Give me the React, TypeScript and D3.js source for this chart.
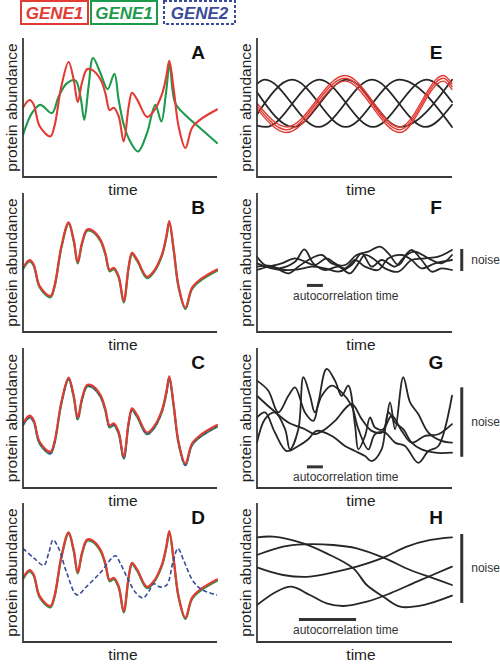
import React from 'react';
import * as d3 from 'd3';

type Pt = [number, number];

// ---------- text ----------
const legendLabels = ['GENE1', 'GENE1', 'GENE2'];
const xAxisLabel = 'time';
const yAxisLabel = 'protein abundance';
const noiseLabel = 'noise';
const autocorrLabel = 'autocorrelation time';

// ---------- data (time 0..100, abundance in arbitrary units) ----------
const gene1: Pt[] = [
  [0, 46.2], [3.4, 51.7], [5.5, 48.6], [8.6, 33.0], [14.1, 25.8], [16.2, 33.0], [19.8, 61.7],
  [23.5, 78.9], [26.1, 66.5], [28.2, 50.2], [30.4, 64.1], [33.0, 73.7], [35.6, 73.2], [39.9, 66.5],
  [42.4, 56.9], [44.7, 44.5], [46.7, 46.2], [49.3, 40.2], [51.9, 22.2], [54.5, 47.4], [56.2, 56.9],
  [58.8, 52.2], [63.9, 39.7], [67.4, 43.8], [71.6, 55.7], [73.9, 68.9], [75.4, 79.7], [77.7, 59.3],
  [80.2, 33.0], [83.7, 17.5], [87.1, 31.8], [91.4, 37.8], [100, 45.0],
];

const gene1OtherCell: Pt[] = [
  [0, 26.9], [4.6, 42.4], [8.9, 48.3], [14.9, 42.4], [18.4, 54.3], [22.7, 63.8], [27.0, 65.8],
  [29.6, 54.3], [31.6, 37.6], [33.8, 61.4], [36.1, 81.7], [39.9, 71.0], [43.6, 59.5], [47.1, 70.5],
  [49.3, 51.9], [52.2, 32.8], [55.3, 22.1], [59.3, 15.0], [63.9, 28.1], [68.2, 48.3], [71.3, 36.4],
  [73.7, 56.6], [75.6, 77.0], [78.5, 49.5], [84.5, 40.0], [91.4, 31.6], [100, 21.0],
];

const gene2: Pt[] = [
  [0, 67.3], [5.5, 60.5], [10.7, 55.2], [13.2, 63.7], [15.5, 73.4], [18.4, 67.3], [22.7, 49.2],
  [27.8, 33.9], [33.0, 40.2], [39.9, 49.9], [47.6, 62.0], [50.2, 56.4], [53.6, 46.7], [57.9, 35.8],
  [61.9, 31.7], [64.8, 36.3], [67.4, 41.9], [70.8, 39.5], [74.2, 41.2], [77.3, 57.6], [79.9, 67.3],
  [82.8, 58.8], [88.0, 43.1], [93.1, 37.0], [100, 33.9],
];

// E: oscillators (extrema)
const oscRed: Pt[] = [[0, 51], [15.2, 34], [45.1, 71], [73.3, 34], [95.6, 71], [100, 65]];
const oscBlack1: Pt[] = [[0, 67], [4, 70], [31.5, 36], [59, 70], [86.5, 36], [100, 52]];
const oscBlack2: Pt[] = [[0, 45], [18, 70], [45.5, 36], [73, 70], [100, 36]];
const oscBlack3: Pt[] = [[0, 37], [4.5, 36], [32, 70], [59.5, 36], [87, 70], [100, 54]];
const oscBlack4: Pt[] = [[0, 61], [18.5, 36], [46, 70], [73.5, 36], [100, 70]];

// F: small, fast noise
const smallNoise1: Pt[] = [
  [0, 54.2], [4.1, 48.2], [10.9, 45.8], [19.5, 50.6], [24.3, 59.5], [28.9, 49.4], [34.9, 44.6],
  [41.7, 47.0], [47.7, 42.2], [52.0, 49.4], [55.4, 55.4], [60.5, 51.8], [65.6, 45.8], [72.5, 43.4],
  [79.3, 51.8], [86.2, 53.0], [93.0, 54.2], [100, 59.0],
];
const smallNoise2: Pt[] = [
  [0, 47.0], [7.5, 47.5], [16.1, 42.2], [21.2, 47.0], [26.3, 51.8], [33.2, 55.4], [38.3, 49.4],
  [45.1, 48.2], [51.1, 55.4], [57.1, 57.8], [63.1, 61.4], [67.4, 56.6], [72.5, 48.2], [76.8, 55.4],
  [81.0, 57.8], [87.9, 53.0], [94.7, 49.4], [100, 55.4],
];
const smallNoise3: Pt[] = [
  [0, 44.6], [5.8, 47.0], [12.6, 49.4], [19.5, 53.0], [24.6, 50.6], [29.7, 48.2], [35.7, 53.0],
  [40.0, 49.4], [45.1, 45.8], [50.3, 51.8], [55.4, 47.0], [62.2, 44.6], [67.4, 53.0], [74.2, 55.4],
  [79.3, 51.8], [84.4, 45.8], [91.3, 49.4], [100, 51.8],
];
const smallNoise4: Pt[] = [
  [0, 49.4], [7.5, 45.8], [14.4, 44.6], [21.2, 45.1], [28.0, 47.0], [34.9, 45.8], [41.7, 43.4],
  [48.5, 48.2], [53.7, 56.6], [58.8, 47.0], [63.9, 51.8], [70.8, 47.0], [74.2, 51.8], [79.3, 59.0],
  [84.4, 51.8], [89.6, 43.4], [94.7, 45.8], [100, 44.6],
];

// G: large, fast noise
const largeNoise1: Pt[] = [
  [0, 76.7], [5.8, 69.5], [10.9, 54.0], [16.1, 65.9], [19.5, 71.9], [24.6, 54.0], [28.9, 48.0],
  [31.5, 61.2], [35.7, 85.1], [40.0, 76.7], [43.4, 65.9], [46.8, 73.1], [50.3, 44.4], [52.0, 27.6],
  [55.4, 37.2], [58.0, 50.4], [60.5, 43.2], [64.8, 42.0], [68.2, 61.2], [70.8, 42.0], [75.0, 79.1],
  [78.5, 61.2], [82.7, 52.8], [87.9, 39.6], [94.7, 33.6], [100, 32.4],
];
const largeNoise2: Pt[] = [
  [0, 65.9], [7.5, 56.4], [16.1, 46.8], [24.6, 42.0], [29.7, 38.4], [34.9, 42.0], [40.0, 48.0],
  [48.5, 60.0], [53.7, 49.2], [58.8, 40.8], [63.9, 39.6], [69.1, 51.6], [74.2, 40.8], [79.3, 32.4],
  [86.2, 37.2], [93.0, 38.4], [100, 45.6],
];
const largeNoise3: Pt[] = [
  [0, 32.4], [4.1, 49.2], [9.2, 54.0], [14.4, 42.0], [16.9, 27.6], [21.2, 42.0], [23.8, 79.1],
  [27.2, 65.9], [29.7, 54.0], [33.2, 65.9], [38.3, 73.1], [43.4, 68.3], [48.5, 58.8], [52.0, 42.0],
  [57.1, 27.6], [60.5, 38.4], [65.6, 39.6], [70.8, 32.4], [75.9, 30.0], [82.7, 18.0], [87.9, 26.4],
  [93.0, 30.0], [100, 65.9],
];
const largeNoise4: Pt[] = [
  [0, 50.4], [4.1, 54.0], [9.2, 39.6], [15.2, 26.4], [21.2, 30.0], [26.3, 34.8], [30.6, 40.8],
  [38.3, 37.2], [45.1, 30.0], [50.3, 26.4], [55.4, 22.8], [58.8, 19.2], [63.9, 27.6], [67.4, 54.0],
  [70.8, 46.8], [75.0, 42.0], [79.3, 32.4], [84.4, 27.6], [91.3, 25.2], [100, 25.2],
];

// H: large, slow noise
const slowNoise1: Pt[] = [
  [0, 75.3], [8.2, 75.8], [23.7, 71.0], [35.7, 63.8], [49.4, 53.0], [56.3, 41.0], [64.8, 32.6],
  [73.4, 25.4], [85.4, 26.6], [100, 33.3],
];
const slowNoise2: Pt[] = [
  [0, 62.6], [13.4, 68.6], [23.7, 70.3], [39.1, 69.8], [51.1, 67.4], [64.8, 60.7], [78.6, 51.8],
  [90.6, 45.8], [100, 41.0],
];
const slowNoise3: Pt[] = [
  [0, 53.7], [13.4, 48.2], [27.1, 47.0], [40.8, 50.6], [51.1, 54.2], [64.8, 60.7], [76.8, 68.6],
  [88.9, 73.4], [100, 75.3],
];
const slowNoise4: Pt[] = [
  [0, 26.6], [9.9, 36.2], [17.7, 39.8], [27.1, 33.8], [35.7, 27.8], [44.3, 25.9], [56.3, 29.0],
  [68.3, 35.0], [82.0, 43.4], [100, 54.2],
];

// annotations (data units): noise range [low, high], autocorrelation [t0, t1, level]
const noiseF: Pt = [43.9, 59.7];
const noiseG: Pt = [22.3, 71.9];
const noiseH: Pt = [28.1, 77.7];
const autocorrF: [number, number, number] = [25.6, 33.8, 33.5];
const autocorrG: [number, number, number] = [25.6, 33.8, 15.1];
const autocorrH: [number, number, number] = [21.5, 50.8, 16.2];
const noiseBarTime = 105;

// ---------- styles / layout ----------
const RED = '#e23b34';
const GREEN = '#1d9a4c';
const BLUE = '#3a4b9b';
const BLACK = '#262626';
const AXIS = '#3a3a3a';
const FONT = '"Liberation Sans", Arial, Helvetica, sans-serif';

const cols = [
  { x0: 23, x1: 217, ylab: 17, timeX: 123, letterX: 198 },
  { x0: 257, x1: 452, ylab: 251, timeX: 361, letterX: 436 },
];
const rows = [
  { top: 38, bottom: 177 },
  { top: 193, bottom: 332 },
  { top: 348, bottom: 488 },
  { top: 503, bottom: 642 },
];

type Series = {
  data: Pt[];
  color: string;
  width: number;
  dy?: number;
  dash?: string;
  curve?: 'mono' | 'cr';
  triple?: boolean;
};

type Panel = {
  letter: string;
  col: number;
  row: number;
  yDomain: [number, number];
  series: Series[];
  noise?: Pt;
  autocorr?: [number, number, number];
};

const panels: Panel[] = [
  {
    letter: 'A', col: 0, row: 0, yDomain: [-3.2, 96],
    series: [
      { data: gene1OtherCell, color: GREEN, width: 2.1 },
      { data: gene1, color: RED, width: 2.1 },
    ],
  },
  {
    letter: 'B', col: 0, row: 1, yDomain: [0, 100],
    series: [
      { data: gene1, color: GREEN, width: 2.2, dy: 1.3 },
      { data: gene1, color: RED, width: 2.2 },
    ],
  },
  {
    letter: 'C', col: 0, row: 2, yDomain: [0, 100],
    series: [
      { data: gene1, color: GREEN, width: 2.2, dy: 1.8 },
      { data: gene1, color: BLUE, width: 1.8, dy: 1.5, dash: '4 2.5' },
      { data: gene1, color: RED, width: 2.1 },
    ],
  },
  {
    letter: 'D', col: 0, row: 3, yDomain: [0, 100],
    series: [
      { data: gene1, color: GREEN, width: 2.2, dy: 1.3 },
      { data: gene1, color: RED, width: 2.2 },
      { data: gene2, color: BLUE, width: 1.6, dash: '4.5 2.5' },
    ],
  },
  {
    letter: 'E', col: 1, row: 0, yDomain: [0, 100],
    series: [
      { data: oscBlack1, color: BLACK, width: 1.8, curve: 'mono' },
      { data: oscBlack2, color: BLACK, width: 1.8, curve: 'mono' },
      { data: oscBlack3, color: BLACK, width: 1.8, curve: 'mono' },
      { data: oscBlack4, color: BLACK, width: 1.8, curve: 'mono' },
      { data: oscRed, color: RED, width: 1.4, curve: 'mono', triple: true },
    ],
  },
  {
    letter: 'F', col: 1, row: 1, yDomain: [0, 100],
    series: [smallNoise1, smallNoise2, smallNoise3, smallNoise4].map((d) => ({ data: d, color: BLACK, width: 1.8 })),
    noise: noiseF, autocorr: autocorrF,
  },
  {
    letter: 'G', col: 1, row: 2, yDomain: [0, 100],
    series: [largeNoise1, largeNoise2, largeNoise3, largeNoise4].map((d) => ({ data: d, color: BLACK, width: 1.8 })),
    noise: noiseG, autocorr: autocorrG,
  },
  {
    letter: 'H', col: 1, row: 3, yDomain: [0, 100],
    series: [slowNoise1, slowNoise2, slowNoise3, slowNoise4].map((d) => ({ data: d, color: BLACK, width: 1.8 })),
    noise: noiseH, autocorr: autocorrH,
  },
];

function PanelView({ p }: { p: Panel }) {
  const c = cols[p.col];
  const r = rows[p.row];
  const x = d3.scaleLinear().domain([0, 100]).range([c.x0, c.x1]);
  const y = d3.scaleLinear().domain(p.yDomain).range([r.bottom, r.top]);
  const mk = (curve?: string) =>
    d3
      .line<Pt>()
      .x((d) => x(d[0]))
      .y((d) => y(d[1]))
      .curve(curve === 'mono' ? d3.curveMonotoneX : d3.curveCatmullRom.alpha(0.5));
  const cy = (r.top + r.bottom) / 2;
  return (
    <g>
      {p.series.map((s, i) => {
        const path = mk(s.curve)(s.data) || '';
        if (s.triple) {
          return (
            <g key={i}>
              {[-2.8, 0, 2.8].map((o) => (
                <path key={o} d={path} transform={`translate(0,${o})`} fill="none" stroke={s.color}
                  strokeWidth={s.width} strokeLinejoin="round" strokeLinecap="round" />
              ))}
            </g>
          );
        }
        return (
          <path key={i} d={path} transform={s.dy ? `translate(0,${s.dy})` : undefined} fill="none"
            stroke={s.color} strokeWidth={s.width} strokeDasharray={s.dash}
            strokeLinejoin="round" strokeLinecap={s.dash ? 'butt' : 'round'} />
        );
      })}
      {/* axes */}
      <path d={`M${x(0)},${r.top}V${r.bottom}H${x(100)}`} fill="none" stroke={AXIS} strokeWidth={1.8} />
      <text x={c.timeX} y={r.bottom + 18} textAnchor="middle" fontFamily={FONT} fontSize={15.5} fill="#222">
        {xAxisLabel}
      </text>
      <text transform={`translate(${c.ylab},${cy}) rotate(-90)`} textAnchor="middle" fontFamily={FONT}
        fontSize={15.5} fill="#222">
        {yAxisLabel}
      </text>
      <text x={c.letterX} y={r.top + 21} textAnchor="middle" fontFamily={FONT} fontWeight="bold"
        fontSize={19} fill="#111">
        {p.letter}
      </text>
      {p.noise && (
        <g>
          <line x1={x(noiseBarTime)} x2={x(noiseBarTime)} y1={y(p.noise[0])} y2={y(p.noise[1])}
            stroke="#333" strokeWidth={3} />
          <text x={x(noiseBarTime) + 9.5} y={(y(p.noise[0]) + y(p.noise[1])) / 2 + 4}
            fontFamily={FONT} fontSize={12} fill="#333">
            {noiseLabel}
          </text>
        </g>
      )}
      {p.autocorr && (
        <g>
          <line x1={x(p.autocorr[0])} x2={x(p.autocorr[1])} y1={y(p.autocorr[2])} y2={y(p.autocorr[2])}
            stroke="#333" strokeWidth={3} />
          <text x={293} y={y(p.autocorr[2]) + 14.5} fontFamily={FONT} fontSize={12} fill="#333">
            {autocorrLabel}
          </text>
        </g>
      )}
    </g>
  );
}

const legendBoxes = [
  { x: 21, w: 67, color: RED, dash: undefined as string | undefined },
  { x: 91, w: 66, color: GREEN, dash: undefined as string | undefined },
  { x: 164, w: 71, color: BLUE, dash: '3 2' },
];

export default function App() {
  return (
    <svg width={500} height={666} viewBox="0 0 500 666"
      style={{ position: 'absolute', left: 0, top: 0, background: '#fff' }}>
      <rect x={0} y={0} width={500} height={666} fill="#fff" />
      {legendLabels.map((lab, i) => {
        const b = legendBoxes[i];
        return (
          <g key={i}>
            <rect x={b.x} y={1} width={b.w} height={23} fill="#fff" stroke={b.color} strokeWidth={2}
              strokeDasharray={b.dash} />
            <text x={b.x + b.w / 2} y={18.5} textAnchor="middle" fontFamily={FONT} fontWeight="bold"
              fontStyle="italic" fontSize={17} fill={b.color}>
              {lab}
            </text>
          </g>
        );
      })}
      {panels.map((p) => (
        <PanelView key={p.letter} p={p} />
      ))}
    </svg>
  );
}
